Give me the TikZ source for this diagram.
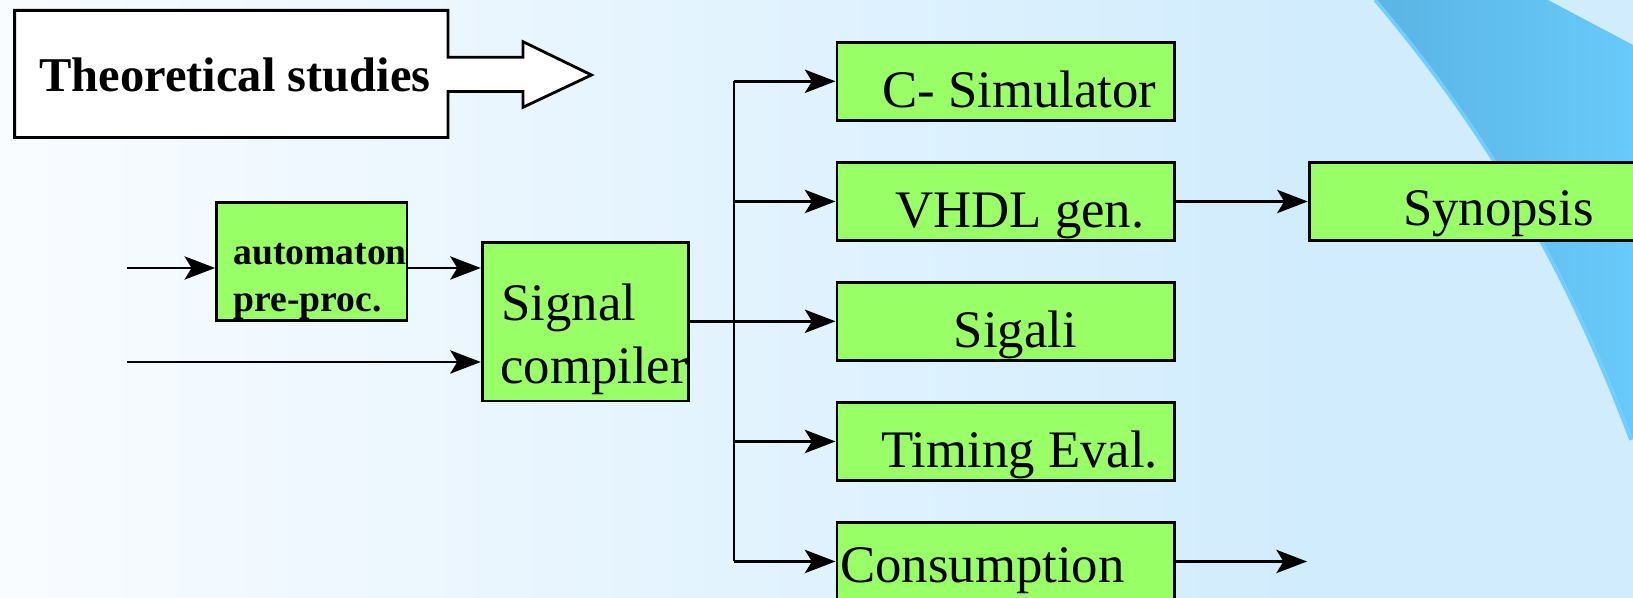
\documentclass[tikz,border=0pt]{standalone}
\usepackage{fontspec}
\setmainfont{Liberation Serif}
\usetikzlibrary{arrows.meta}

\definecolor{bgleft}{RGB}{249,252,255}
\definecolor{bgmid}{RGB}{238,247,255}
\definecolor{bgright}{RGB}{209,236,253}
\definecolor{swooshA}{RGB}{90,180,228}
\definecolor{swooshB}{RGB}{104,202,250}
\definecolor{swooshedge}{RGB}{112,206,255}
\definecolor{boxgreen}{RGB}{153,255,102}

\begin{document}
\begin{tikzpicture}[x=0.01cm,y=-0.01cm,line width=0.8pt,
  >={Stealth[length=8.7pt,width=6.6pt,inset=2pt]},
  box/.style={draw,fill=boxgreen,inner sep=0pt,minimum height=0.78cm},
  lbl/.style={inner sep=0pt,anchor=base west,font=\fontsize{15}{18}\selectfont},
  smallbf/.style={inner sep=0pt,anchor=base west,font=\fontsize{10.7}{13}\selectfont\bfseries}]
\useasboundingbox (0,0) rectangle (1633,598);
% background
\shade[left color=bgleft,middle color=bgmid,right color=bgright] (0,0) rectangle (1310,598);
\fill[bgright] (1310,0) rectangle (1633,598);
\shade[left color=swooshA,right color=swooshB] (1377,0) .. controls (1504,150) and (1576,290) .. (1633,440) -- (1633,45) -- (1548,0) -- cycle;
\draw[swooshedge,line width=1pt] (1375,0) .. controls (1502,150) and (1574,290) .. (1631,440);

% theoretical studies
\draw[fill=white] (14.6,10.4) -- (448,10.4) -- (448,57.3) -- (523,57.3) -- (523,41.7) -- (591.5,75)
  -- (523,107.3) -- (523,91.6) -- (448,91.6) -- (448,137.5) -- (14.6,137.5) -- cycle;
\node[inner sep=0pt,anchor=base west,font=\fontsize{13.8}{16}\selectfont\bfseries] (theory) at (38,91.3) {Theoretical studies};

% boxes
\node[box,minimum width=1.904cm,minimum height=1.18cm] (auto) at (311.8,261.5) {};
\node[smallbf] (autoA) at (232,264.5) {automaton};
\node[smallbf] (autoB) at (232,311.5) {pre-proc.};
\node[box,minimum width=2.062cm,minimum height=1.587cm] (sig) at (585.4,321.6) {};
\node[lbl] (sigA) at (500,320.7) {Signal};
\node[lbl] (sigB) at (499,384) {compiler};

\node[box,minimum width=3.37cm] (csim) at (1005.5,81.3) {};
\node[lbl] (csimT) at (881,107.3) {C- Simulator};
\node[box,minimum width=3.37cm] (vhdl) at (1005.5,201.5) {};
\node[lbl] (vhdlT) at (894,227.3) {VHDL gen.};
\node[box,minimum width=3.37cm] (sigali) at (1005.5,321.3) {};
\node[lbl] (sigaliT) at (952.3,347.3) {Sigali};
\node[box,minimum width=3.37cm] (timing) at (1005.5,441.5) {};
\node[lbl] (timingT) at (880,467.3) {Timing Eval.};
\node[box,minimum width=3.37cm] (cons) at (1005.5,561.5) {};
\node[lbl] (consT) at (839,583) {Consumption};
\node[box,minimum width=4cm] (syn) at (1509.3,201.5) {};
\node[lbl] (synT) at (1401.7,226) {Synopsis};

% connectors
\coordinate (in1) at (127,268);
\coordinate (in2) at (127,362);
\coordinate (bus) at (734,321.6);
\coordinate (out) at (1307,561.5);
\draw[->] (in1) -- (in1 -| auto.west);
\draw[->] (auto.east |- in1) -- (sig.west |- in1);
\draw[->] (in2) -- (in2 -| sig.west);
\draw (sig.east) -- (bus);
\draw (bus |- csim) -- (bus |- cons);
\draw[->] (bus |- csim) -- (csim.west);
\draw[->] (bus |- vhdl) -- (vhdl.west);
\draw[->] (bus |- sigali) -- (sigali.west);
\draw[->] (bus |- timing) -- (timing.west);
\draw[->] (bus |- cons) -- (cons.west);
\draw[->] (vhdl.east) -- (syn.west);
\draw[->] (cons.east) -- (out);
\end{tikzpicture}
\end{document}
